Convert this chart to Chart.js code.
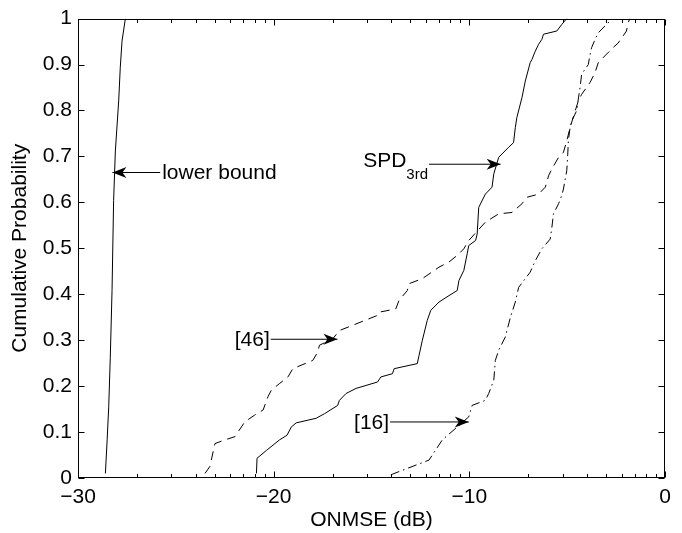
<!DOCTYPE html>
<html><head><meta charset="utf-8">
<script src="https://cdn.jsdelivr.net/npm/chart.js@4"></script>
<style>html,body{margin:0;padding:0;background:#fff}</style>
</head><body>
<canvas id="c" width="682" height="533"></canvas>
<script>
// ---- data ----
const xTickValues = [-30, -20, -10, 0];
const yTickLabels = ['0','0.1','0.2','0.3','0.4','0.5','0.6','0.7','0.8','0.9','1'];
const minorMultipliers = [2,3,4,5,6,7,8,9];

const lowerBoundX = [-28.6, -28.51, -28.43, -28.35, -28.26, -28.18, -28.09, -27.92, -27.84, -27.75, -27.58];
const lowerBoundY = [0.01, 0.083, 0.155, 0.263, 0.408, 0.604, 0.712, 0.821, 0.893, 0.951, 1.0];

const spdX = [-20.88,-20.85,-20.37,-19.7,-19.32,-19.1,-18.85,-17.83,-17.4,-16.73,-16.64,-16.3,-15.79,-14.69,-14.52,-13.93,-13.84,-12.66,-12.57,-12.4,-12.15,-11.97,-11.55,-11.04,-10.62,-10.53,-10.28,-10.11,-10.03,-9.68,-9.6,-9.52,-9.18,-8.84,-8.75,-8.5,-7.99,-7.74,-7.65,-7.57,-7.31,-7.14,-6.89,-6.8,-6.63,-6.46,-6.29,-6.21,-5.53,-5.28,-5.02];
const spdY = [0.01,0.043,0.06,0.083,0.093,0.111,0.12,0.13,0.14,0.158,0.169,0.184,0.195,0.209,0.22,0.227,0.238,0.249,0.267,0.30,0.343,0.365,0.383,0.397,0.408,0.43,0.452,0.488,0.506,0.517,0.531,0.589,0.618,0.633,0.662,0.698,0.72,0.73,0.763,0.785,0.828,0.864,0.904,0.911,0.929,0.944,0.955,0.966,0.973,0.987,1.0];

const ref46X = [-23.51,-23.26,-23.0,-22.49,-21.98,-21.48,-20.97,-20.54,-20.29,-20.12,-19.69,-19.27,-19.02,-18.0,-17.75,-17.66,-16.98,-16.64,-14.69,-14.6,-13.76,-13.59,-13.17,-13.08,-12.4,-11.55,-11.04,-10.53,-10.28,-10.03,-9.18,-8.5,-7.82,-7.31,-7.06,-6.46,-6.12,-5.95,-5.78,-5.44,-5.19,-5.02,-4.85,-4.43,-4.26,-3.83,-3.58,-3.41,-3.07,-2.65,-2.39,-1.97,-1.88,-1.8];
const ref46Y = [0.01,0.025,0.075,0.083,0.09,0.122,0.137,0.148,0.177,0.191,0.206,0.22,0.238,0.256,0.274,0.289,0.303,0.321,0.354,0.361,0.368,0.387,0.408,0.423,0.434,0.459,0.47,0.488,0.499,0.517,0.557,0.575,0.578,0.597,0.611,0.618,0.633,0.658,0.673,0.698,0.709,0.734,0.763,0.821,0.835,0.861,0.882,0.904,0.919,0.937,0.947,0.973,0.991,1.0];

const ref16X = [-14.01,-13.59,-12.06,-11.38,-10.62,-10.03,-9.86,-9.18,-9.01,-8.75,-8.67,-8.5,-8.16,-7.9,-7.65,-7.48,-7.14,-6.89,-6.63,-6.29,-5.87,-5.78,-5.7,-5.44,-5.28,-5.19,-5.1,-5.02,-4.97,-4.94,-4.85,-4.77,-4.51,-4.43,-4.34,-4.26,-3.92,-3.83,-3.75,-3.61,-3.41,-3.07,-2.81];
const ref16Y = [0.007,0.014,0.039,0.083,0.111,0.133,0.158,0.169,0.184,0.213,0.256,0.278,0.307,0.35,0.383,0.415,0.434,0.448,0.473,0.499,0.52,0.546,0.575,0.597,0.615,0.629,0.651,0.669,0.705,0.734,0.763,0.777,0.8,0.825,0.85,0.879,0.9,0.922,0.937,0.951,0.969,0.984,0.995];

// annotations: text, optional subscript, arrow tip (data units), arrow tail x (data units)
const notes = [
  {text:'lower bound', sub:'', tipX:-28.24, tipY:0.665, tailX:-25.8},
  {text:'SPD', sub:'3rd', tipX:-8.40, tipY:0.683, tailX:-12.06},
  {text:'[46]', sub:'', tipX:-16.74, tipY:0.302, tailX:-20.15},
  {text:'[16]', sub:'', tipX:-10.03, tipY:0.122, tailX:-14.05}
];

const FONT = "'Liberation Sans', Arial, Helvetica, sans-serif";
const zip = (xs, ys) => xs.map((v, i) => ({x: v, y: ys[i]}));

function arrow(ctx, x0, y0, x1, y1) {
  ctx.beginPath(); ctx.moveTo(x0, y0); ctx.lineTo(x1, y1); ctx.stroke();
  const ang = Math.atan2(y1 - y0, x1 - x0);
  const len = 14, hw = 5.5, notch = 4;
  const c = Math.cos(ang), s = Math.sin(ang);
  const bx = x1 - len * c, by = y1 - len * s;
  ctx.beginPath();
  ctx.moveTo(x1, y1);
  ctx.lineTo(bx - hw * s, by + hw * c);
  ctx.lineTo(x1 - (len - notch) * c, y1 - (len - notch) * s);
  ctx.lineTo(bx + hw * s, by - hw * c);
  ctx.closePath(); ctx.fill();
}

const framePlugin = {
  id: 'frame',
  afterDraw(chart) {
    const {ctx, chartArea: a, scales: {x, y}} = chart;
    ctx.save();
    ctx.strokeStyle = '#000'; ctx.fillStyle = '#000'; ctx.lineWidth = 1;
    const L = Math.round(a.left) + 0.5, R = Math.round(a.right) - 0.5;
    const T = Math.round(a.top) + 0.5, B = Math.round(a.bottom) - 0.5;
    ctx.strokeRect(L, T, R - L, B - T);
    ctx.beginPath();
    xTickValues.forEach(v => {
      const p = Math.round(x.getPixelForValue(v)) + 0.5;
      ctx.moveTo(p, B); ctx.lineTo(p, B - 6);
      ctx.moveTo(p, T); ctx.lineTo(p, T + 6);
    });
    xTickValues.slice(0, -1).forEach(d => {
      minorMultipliers.forEach(k => {
        const p = Math.round(x.getPixelForValue(d + 10 * Math.log10(k))) + 0.5;
        ctx.moveTo(p, B); ctx.lineTo(p, B - 3.5);
        ctx.moveTo(p, T); ctx.lineTo(p, T + 3.5);
      });
    });
    y.ticks.forEach(t => {
      const p = Math.round(y.getPixelForValue(t.value)) + 0.5;
      ctx.moveTo(L, p); ctx.lineTo(L + 6, p);
      ctx.moveTo(R, p); ctx.lineTo(R - 6, p);
    });
    ctx.stroke();

    notes.forEach(n => {
      const tx = x.getPixelForValue(n.tipX), ty = y.getPixelForValue(n.tipY);
      const sx = x.getPixelForValue(n.tailX);
      arrow(ctx, sx, ty, tx, ty);
      ctx.textBaseline = 'middle';
      if (sx > tx) {
        ctx.font = '21px ' + FONT; ctx.textAlign = 'left';
        ctx.fillText(n.text, sx + 2, ty + 1);
      } else if (n.sub) {
        ctx.font = '15px ' + FONT;
        const w2 = ctx.measureText(n.sub).width;
        ctx.textAlign = 'left';
        ctx.fillText(n.sub, sx - w2 - 1, ty + 10.5);
        ctx.font = '21px ' + FONT; ctx.textAlign = 'right';
        ctx.fillText(n.text, sx - w2 - 1, ty - 3);
      } else {
        ctx.font = '21px ' + FONT; ctx.textAlign = 'right';
        ctx.fillText(n.text, sx - 1, ty + 1);
      }
    });
    ctx.restore();
  }
};

const common = {showLine: true, pointRadius: 0, borderColor: '#000', borderWidth: 1, fill: false, tension: 0};

new Chart(document.getElementById('c'), {
  type: 'scatter',
  data: {
    datasets: [
      {...common, label: 'lower bound', data: zip(lowerBoundX, lowerBoundY)},
      {...common, label: 'SPD3rd', data: zip(spdX, spdY)},
      {...common, label: '[46]', data: zip(ref46X, ref46Y), borderDash: [9, 6]},
      {...common, label: '[16]', data: zip(ref16X, ref16Y), borderDash: [9, 4, 1.5, 4]}
    ]
  },
  options: {
    responsive: false,
    animation: false,
    devicePixelRatio: 1,
    layout: {padding: {left: 0, right: 17, top: 17, bottom: 0}},
    plugins: {legend: {display: false}, tooltip: {enabled: false}},
    scales: {
      x: {
        type: 'linear', min: -30, max: 0,
        afterBuildTicks: s => { s.ticks = xTickValues.map(v => ({value: v})); },
        afterFit: s => { s.height = 55; },
        ticks: {
          padding: 7, color: '#000', font: {family: FONT, size: 21},
          callback: v => (v < 0 ? '\u2212' + Math.abs(v) : String(v))
        },
        grid: {display: true, drawOnChartArea: false, drawTicks: false},
        border: {display: false},
        title: {display: true, text: 'ONMSE (dB)', color: '#000', font: {family: FONT, size: 21}, padding: {top: 0, bottom: 0}}
      },
      y: {
        type: 'linear', min: 0, max: 1,
        afterBuildTicks: s => { s.ticks = yTickLabels.map(l => ({value: parseFloat(l)})); },
        afterFit: s => { s.width = 78; },
        ticks: {
          padding: 6, color: '#000', font: {family: FONT, size: 21},
          callback: (v, i) => yTickLabels[i]
        },
        grid: {display: true, drawOnChartArea: false, drawTicks: false},
        border: {display: false},
        title: {display: true, text: 'Cumulative Probability', color: '#000', font: {family: FONT, size: 21}, padding: {top: 8, bottom: 0}}
      }
    }
  },
  plugins: [framePlugin]
});
</script>
</body></html>
